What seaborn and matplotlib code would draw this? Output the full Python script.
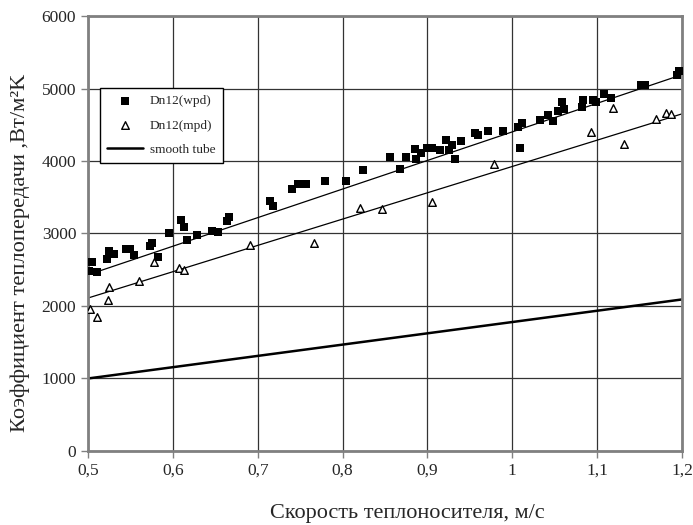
import numpy as np
import pandas as pd
import matplotlib
matplotlib.use('Agg')
import matplotlib.pyplot as plt
import seaborn as sns
from matplotlib.ticker import FuncFormatter

# Dn12(wpd) measured points
wpd_v = [0.501, 0.505, 0.511, 0.522, 0.525, 0.531, 0.545, 0.550, 0.554, 0.573,
         0.575, 0.582, 0.596, 0.610, 0.613, 0.617, 0.629, 0.646, 0.653, 0.664,
         0.666, 0.714, 0.718, 0.741, 0.748, 0.757, 0.779, 0.804, 0.824, 0.856,
         0.868, 0.875, 0.885, 0.887, 0.893, 0.900, 0.906, 0.915, 0.922, 0.925,
         0.929, 0.932, 0.940, 0.956, 0.960, 0.972, 0.989, 1.007, 1.009, 1.012,
         1.033, 1.042, 1.048, 1.054, 1.059, 1.061, 1.082, 1.084, 1.095, 1.099,
         1.108, 1.116, 1.152, 1.157, 1.194, 1.197]
wpd_k = [2483, 2611, 2465, 2648, 2759, 2713, 2782, 2782, 2703, 2828,
         2865, 2676, 3011, 3186, 3094, 2910, 2979, 3039, 3016, 3177,
         3232, 3448, 3379, 3609, 3678, 3678, 3724, 3724, 3876, 4059,
         3885, 4059, 4161, 4028, 4115, 4175, 4175, 4152, 4290, 4152,
         4220, 4032, 4272, 4382, 4359, 4410, 4418, 4473, 4175, 4520,
         4566, 4634, 4556, 4694, 4818, 4713, 4749, 4841, 4841, 4809,
         4924, 4865, 5048, 5048, 5186, 5245]

# Dn12(mpd) measured points
mpd_v = [0.502, 0.511, 0.523, 0.525, 0.560, 0.578, 0.607, 0.613, 0.691, 0.766,
         0.820, 0.846, 0.906, 0.979, 1.093, 1.119, 1.132, 1.169, 1.181, 1.187]
mpd_k = [1959, 1853, 2083, 2267, 2349, 2603, 2520, 2497, 2837, 2864,
         3356, 3333, 3439, 3963, 4405, 4736, 4230, 4579, 4657, 4648]

# trend lines and smooth tube
line_v = [0.5, 1.2]
wpd_fit = [2430, 5190]
mpd_fit = [2110, 4650]
smooth_k = [1000, 2090]

sns.set_style('white')
plt.rcParams['font.family'] = ['Liberation Serif', 'DejaVu Serif']

fig = plt.figure(figsize=(6.93, 5.25), dpi=100)
ax = fig.add_axes([0.127, 0.141, 0.857, 0.8285])

sns.lineplot(x=line_v, y=wpd_fit, ax=ax, color='black', linewidth=0.9)
sns.lineplot(x=line_v, y=mpd_fit, ax=ax, color='black', linewidth=0.9)
sns.lineplot(x=line_v, y=smooth_k, ax=ax, color='black', linewidth=1.8, label='smooth tube')
sns.scatterplot(x=wpd_v, y=wpd_k, ax=ax, marker='s', s=34, color='black',
                edgecolor='black', linewidth=0, label='Dn12(wpd)', zorder=3)
sns.scatterplot(x=mpd_v, y=mpd_k, ax=ax, marker='^', s=30, facecolor='white',
                edgecolor='black', linewidth=1.0, label='Dn12(mpd)', zorder=3)

ax.set_xlim(0.5, 1.2)
ax.set_ylim(0, 6000)
ax.set_xticks(np.arange(0.5, 1.21, 0.1))
ax.set_yticks(range(0, 6001, 1000))
ax.xaxis.set_major_formatter(FuncFormatter(lambda v, p: f'{v:.1f}'.replace('.', ',').replace(',0', '')))
ax.grid(True, color='#333333', linewidth=0.9)
for sp in ax.spines.values():
    sp.set_color('#808080')
    sp.set_linewidth(2)
ax.tick_params(axis='both', direction='out', length=5, width=1, color='#808080',
               labelsize=12.5, left=True, bottom=True)

# axis titles (the x title sits right of centre, as in the original)
ax.set_xlabel('Скорость теплоносителя, м/с', fontsize=16, ha='left', va='baseline')
ax.xaxis.set_label_coords(0.306, -0.154)
ax.set_ylabel('Коэффициент теплопередачи ,Вт/м²K', fontsize=16.2)
ax.yaxis.set_label_coords(-0.097, 0.455)

h, l = ax.get_legend_handles_labels()
order = [l.index('Dn12(wpd)'), l.index('Dn12(mpd)'), l.index('smooth tube')]
ax.legend([h[i] for i in order], [l[i] for i in order], loc='upper left',
          bbox_to_anchor=(0.02, 0.835), borderaxespad=0, fontsize=9.6,
          frameon=True, fancybox=False, edgecolor='black', framealpha=1,
          handlelength=2.7, handletextpad=0.5, borderpad=0.55, labelspacing=0.9)

fig.savefig('out.png', dpi=100)
